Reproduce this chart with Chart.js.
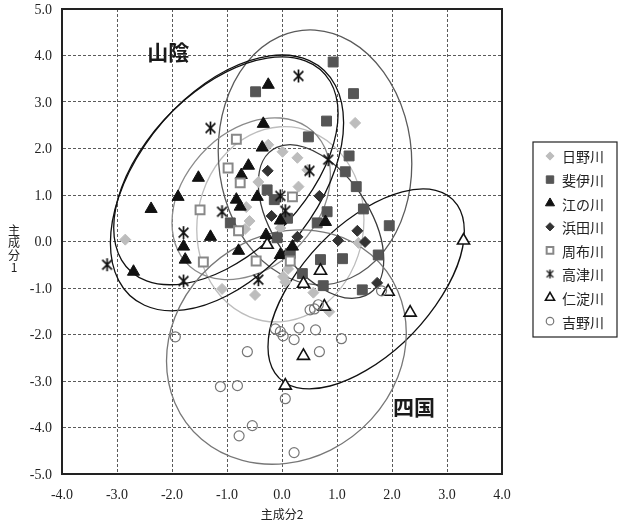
<!DOCTYPE html>
<html><head><meta charset="utf-8">
<script src="https://cdn.jsdelivr.net/npm/chart.js@4/dist/chart.umd.min.js"></script>
<style>html,body{margin:0;padding:0;background:#fff}#wrap{width:619px;height:525px;position:relative}</style>
</head><body><div id="wrap"><canvas id="c" width="619" height="525"></canvas></div>
<script>
// ---------- data (principal component scores: [主成分2, 主成分1]) ----------
const seriesNames = ['日野川','斐伊川','江の川','浜田川','周布川','高津川','仁淀川','吉野川'];
const hino = [[-2.85,0.04],[-0.25,2.08],[0.01,1.93],[0.28,1.80],[0.46,1.54],[0.30,1.18],[1.33,2.55],[-0.43,1.28],[-0.65,0.74],[-0.59,0.44],[-0.67,0.27],[-0.03,0.29],[-1.09,-1.02],[-0.49,-1.15],[0.11,-0.59],[0.02,-0.76],[0.06,-0.87],[0.57,-1.10],[0.86,-1.51],[1.39,-0.03]];
const hii = [[-0.48,3.22],[0.93,3.86],[1.30,3.18],[0.81,2.59],[0.48,2.25],[1.22,1.84],[1.15,1.50],[1.35,1.18],[1.48,0.70],[0.82,0.64],[0.64,0.40],[1.95,0.34],[-0.27,1.11],[-0.14,0.90],[-0.94,0.40],[-0.09,0.08],[0.15,-0.26],[0.70,-0.39],[1.10,-0.37],[1.75,-0.29],[0.37,-0.69],[0.75,-0.95],[1.46,-1.04],[0.10,0.50]];
const gonokawa = [[-0.25,3.37],[-0.34,2.53],[-0.36,2.02],[-0.61,1.63],[-0.74,1.43],[-1.52,1.37],[-1.89,0.96],[-2.38,0.70],[-0.45,0.96],[-0.83,0.90],[-0.76,0.75],[-1.30,0.10],[-1.79,-0.11],[-1.76,-0.39],[-2.70,-0.65],[-0.79,-0.20],[-0.29,0.14],[-0.03,0.45],[0.79,0.42],[-0.03,-0.29],[0.19,-0.11]];
const hamada = [[-0.26,1.52],[0.68,0.98],[-0.19,0.55],[0.28,0.10],[1.37,0.23],[1.02,0.02],[1.51,-0.01],[1.73,-0.89]];
const sufu = [[-0.83,2.20],[-0.98,1.58],[-0.76,1.26],[-1.49,0.68],[-0.79,0.23],[-1.43,-0.44],[-0.47,-0.42],[0.19,0.96],[0.15,-0.42]];
const takatsu = [[0.30,3.56],[-1.30,2.44],[0.84,1.76],[0.50,1.52],[-0.03,0.98],[0.06,0.66],[-1.09,0.64],[-1.79,0.19],[-3.18,-0.50],[-1.79,-0.85],[-0.43,-0.82]];
const niyodo = [[-0.27,-0.07],[0.70,-0.63],[0.39,-0.91],[0.77,-1.40],[1.93,-1.08],[2.33,-1.53],[0.39,-2.46],[0.06,-3.10],[3.30,0.02]];
const yoshino = [[-1.94,-2.05],[-0.63,-2.37],[-1.12,-3.12],[-0.81,-3.10],[-0.54,-3.96],[-0.78,-4.18],[0.06,-3.38],[0.22,-4.54],[-0.12,-1.88],[-0.03,-1.94],[0.02,-2.03],[0.31,-1.86],[0.61,-1.90],[0.22,-2.11],[1.08,-2.09],[0.68,-2.37],[0.51,-1.47],[0.59,-1.45],[0.66,-1.36],[1.81,-1.06]];
const seriesData = [hino, hii, gonokawa, hamada, sufu, takatsu, niyodo, yoshino];

// concentration ellipses per series (data units): centre, half-extent in x / y, correlation
const ellipseCx  = [-0.03, 0.60, -1.02, 0.71, -0.56, -1.00, 1.53, 0.08];
const ellipseCy  = [ 0.37, 1.81,  1.52, 0.43,  0.92,  1.26, -1.02, -2.27];
const ellipseRx  = [ 1.52, 1.76,  2.04, 1.14,  1.44,  2.12, 1.785, 2.18];
const ellipseRy  = [ 2.10, 2.74,  2.45, 1.65,  1.74,  2.75, 2.15, 2.52];
const ellipseRho = [ 0.05,-0.05,  0.50,-0.50,  0.30,  0.47, 0.58, 0.12];

const xTicks = [-4,-3,-2,-1,0,1,2,3,4];
const yTicks = [-5,-4,-3,-2,-1,0,1,2,3,4,5];
const xTitle = '主成分2';
const yTitle = ['主','成','分','1'];
const regionLabels = ['山陰','四国'];
const regionPos = [[-2.07,4.08],[2.4,-3.55]];

// ---------- styles ----------
function asterisk(size, color, lw){
  const c=document.createElement('canvas'); c.width=size; c.height=size;
  const g=c.getContext('2d'); g.strokeStyle=color; g.lineWidth=lw; g.lineCap='butt';
  const m=size/2, r=size/2-1, d=r*0.75;
  g.beginPath(); g.moveTo(m,m-r); g.lineTo(m,m+r);
  g.moveTo(m-d,m-d); g.lineTo(m+d,m+d); g.moveTo(m+d,m-d); g.lineTo(m-d,m+d); g.stroke();
  return c;
}
const styles = [
  {pointStyle:'rectRot', radius:5.5, bg:'#bdbdbd', border:'#bdbdbd', bw:1, ell:'#bdbdbd'},
  {pointStyle:'rect', radius:7, bg:'#555555', border:'#555555', bw:1, ell:'#5a5a5a'},
  {pointStyle:'triangle', radius:7, bg:'#111111', border:'#111111', bw:1, ell:'#111111'},
  {pointStyle:'rectRot', radius:5.5, bg:'#333333', border:'#333333', bw:1, ell:'#3a3a3a'},
  {pointStyle:'rect', radius:6.3, bg:'#ffffff', border:'#888888', bw:2, ell:'#8a8a8a'},
  {pointStyle:asterisk(15,'#111',1.7), radius:7, bg:'#111', border:'#111', bw:1, ell:'#111111'},
  {pointStyle:'triangle', radius:7, bg:'#ffffff', border:'#111111', bw:1.6, ell:'#111111'},
  {pointStyle:'circle', radius:5, bg:'rgba(255,255,255,0)', border:'#777777', bw:1.2, ell:'#777777'}
];

const datasets = seriesNames.map((n,i)=>({
  label:n,
  data: seriesData[i].map(p=>({x:p[0],y:p[1]})),
  showLine:false,
  pointStyle: styles[i].pointStyle,
  pointRadius: styles[i].radius,
  pointHoverRadius: styles[i].radius,
  backgroundColor: styles[i].bg,
  borderColor: styles[i].border,
  pointBorderWidth: styles[i].bw,
  order: 8-i
}));

const ellipsePlugin = {
  id:'ellipses',
  beforeDatasetsDraw(chart){
    const ctx=chart.ctx, xs=chart.scales.x, ys=chart.scales.y, a=chart.chartArea;
    ctx.save();
    ctx.beginPath(); ctx.rect(a.left,a.top,a.right-a.left,a.bottom-a.top); ctx.clip();
    for(let i=0;i<ellipseCx.length;i++){
      const px0=xs.getPixelForValue(ellipseCx[i]), py0=ys.getPixelForValue(ellipseCy[i]);
      const kx=xs.getPixelForValue(ellipseCx[i]+1)-px0, ky=ys.getPixelForValue(ellipseCy[i]+1)-py0;
      const rx=ellipseRx[i], ry=ellipseRy[i], rho=ellipseRho[i];
      ctx.save();
      ctx.beginPath();
      ctx.transform(kx*rx, ky*ry*rho, 0, ky*ry*Math.sqrt(1-rho*rho), px0, py0);
      ctx.arc(0,0,1,0,Math.PI*2);
      ctx.restore();
      ctx.lineWidth=1.3; ctx.strokeStyle=styles[i].ell; ctx.setLineDash([]);
      ctx.stroke();
    }
    ctx.restore();
  }
};

const decorPlugin = {
  id:'decor',
  afterDraw(chart){
    const ctx=chart.ctx, a=chart.chartArea, xs=chart.scales.x, ys=chart.scales.y;
    ctx.save();
    ctx.setLineDash([]);
    ctx.strokeStyle='#222'; ctx.lineWidth=2;
    ctx.strokeRect(a.left,a.top,a.right-a.left,a.bottom-a.top);
    ctx.fillStyle='#1a1a1a'; ctx.font='bold 21px "Noto Sans CJK JP"'; ctx.textAlign='center'; ctx.textBaseline='middle';
    regionLabels.forEach((t,i)=>ctx.fillText(t, xs.getPixelForValue(regionPos[i][0]), ys.getPixelForValue(regionPos[i][1])));
    ctx.font='12px "Noto Sans CJK JP"'; ctx.fillStyle='#222';
    yTitle.forEach((t,i)=>ctx.fillText(t, 14, 230+i*12.5));
    const L=533, T=142, R=617, B=337;
    ctx.strokeStyle='#222'; ctx.lineWidth=1.2; ctx.strokeRect(L,T,R-L,B-T);
    ctx.font='14px "Noto Sans CJK JP"'; ctx.textAlign='left'; ctx.fillStyle='#222';
    seriesNames.forEach((n,i)=>{
      const y=156+i*23.6, s=styles[i];
      ctx.save();
      ctx.fillStyle=s.bg; ctx.strokeStyle=s.border; ctx.lineWidth=s.bw;
      const r = typeof s.pointStyle==='string' ? s.radius*0.75 : s.radius;
      let ps = s.pointStyle;
      if (typeof ps !== 'string') ps = asterisk(11,'#111',1.4);
      Chart.helpers.drawPoint(ctx,{pointStyle:ps,radius:r,borderWidth:s.bw,rotation:0},550,y);
      ctx.restore();
      ctx.fillStyle='#222';
      ctx.fillText(n,562,y+1);
    });
    ctx.restore();
  }
};

const tickFont = {family:'"Liberation Serif"', size:14};
const gridOpts = {display:true, drawOnChartArea:true, drawTicks:false, color:'#5a5a5a', lineWidth:1};
new Chart(document.getElementById('c'),{
  type:'scatter',
  data:{datasets},
  options:{
    responsive:false, animation:false, events:[],
    layout:{padding:{left:0,right:117,top:9,bottom:0}},
    plugins:{legend:{display:false}, tooltip:{enabled:false}},
    scales:{
      x:{type:'linear', min:xTicks[0], max:xTicks[xTicks.length-1],
        afterBuildTicks(s){ s.ticks = xTicks.map(v=>({value:v})); },
        afterFit(s){ s.height=51; s.paddingLeft=0; s.paddingRight=0; },
        ticks:{color:'#222', font:tickFont, padding:13, maxRotation:0, callback:v=>v.toFixed(1)},
        grid:gridOpts,
        border:{display:true, color:'#222', width:1, dash:[3,2]},
        title:{display:true, text:xTitle, color:'#222', font:{family:'"Noto Sans CJK JP"', size:12}, padding:{top:0,bottom:3}}
      },
      y:{type:'linear', min:yTicks[0], max:yTicks[yTicks.length-1],
        afterBuildTicks(s){ s.ticks = yTicks.map(v=>({value:v})); },
        afterFit(s){ s.width=62; s.paddingTop=0; s.paddingBottom=0; },
        ticks:{color:'#222', font:tickFont, padding:10, labelOffset:1, callback:v=>v.toFixed(1)},
        grid:gridOpts,
        border:{display:true, color:'#222', width:1, dash:[3,2]},
        title:{display:false}
      }
    }
  },
  plugins:[ellipsePlugin, decorPlugin]
});
</script></body></html>
